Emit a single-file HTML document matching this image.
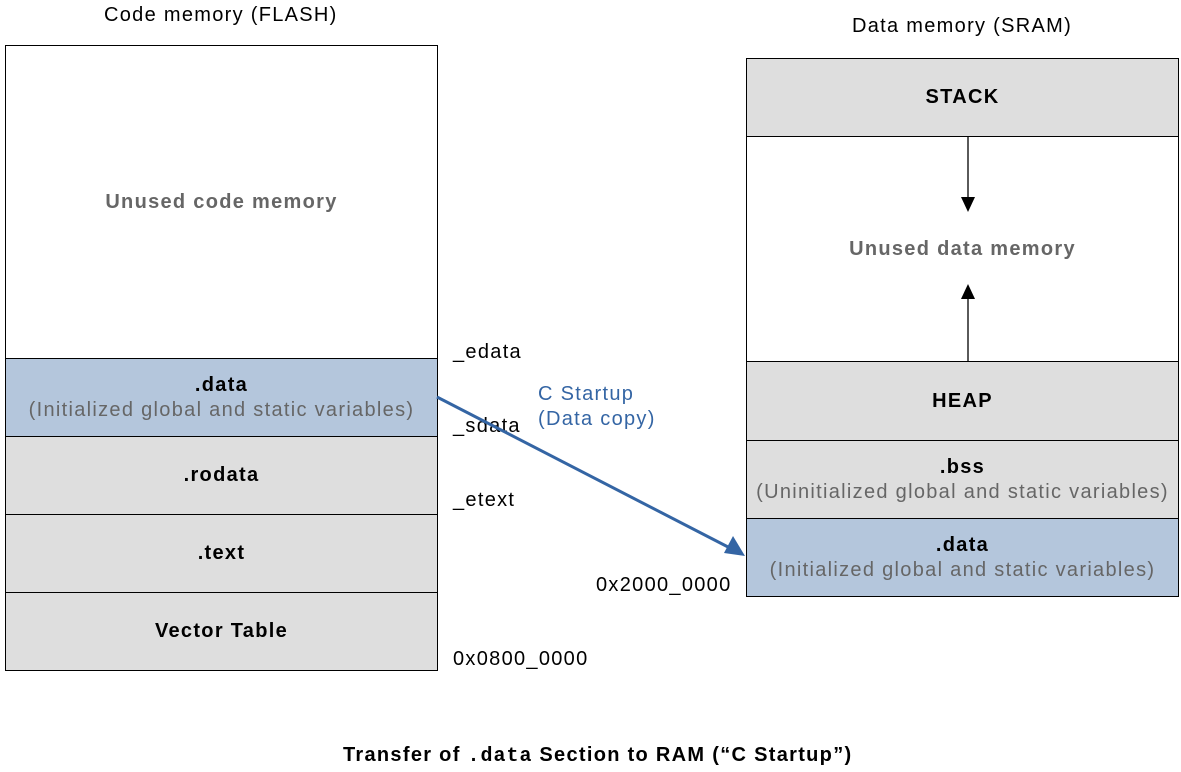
<!DOCTYPE html>
<html><head><meta charset="utf-8"><style>
body{margin:0;width:1181px;height:772px;background:#fff;font-family:"Liberation Sans",sans-serif;position:relative;overflow:hidden;letter-spacing:1.3px}
.b{position:absolute;box-sizing:border-box;border:1px solid #000;display:flex;flex-direction:column;align-items:center;justify-content:center;text-align:center;font-size:20px;line-height:25px}
.g{background:#dedede}.bl{background:#b4c6dc}.w{background:#fff}
.b b{color:#000}.s{color:#666}
.t{position:absolute;font-size:20px;color:#000;white-space:nowrap}
</style></head><body>
<div class="t" style="left:104px;top:4px">Code memory (FLASH)</div>
<div class="t" style="left:852px;top:15px">Data memory (SRAM)</div>

<div class="b w" style="left:5px;top:45px;width:433px;height:314px"><b style="color:#666">Unused code memory</b></div>
<div class="b bl" style="left:5px;top:358px;width:433px;height:79px"><b>.data</b><span class="s">(Initialized global and static variables)</span></div>
<div class="b g" style="left:5px;top:436px;width:433px;height:79px"><b>.rodata</b></div>
<div class="b g" style="left:5px;top:514px;width:433px;height:79px"><b>.text</b></div>
<div class="b g" style="left:5px;top:592px;width:433px;height:79px"><b>Vector Table</b></div>

<div class="b g" style="left:746px;top:58px;width:433px;height:79px"><b>STACK</b></div>
<div class="b w" style="left:746px;top:136px;width:433px;height:226px"><b style="color:#666">Unused data memory</b></div>
<div class="b g" style="left:746px;top:361px;width:433px;height:80px"><b>HEAP</b></div>
<div class="b g" style="left:746px;top:440px;width:433px;height:79px"><b>.bss</b><span class="s">(Uninitialized global and static variables)</span></div>
<div class="b bl" style="left:746px;top:518px;width:433px;height:79px"><b>.data</b><span class="s">(Initialized global and static variables)</span></div>

<div class="t" style="left:453px;top:341px">_edata</div>
<div class="t" style="left:453px;top:415px">_sdata</div>
<div class="t" style="left:453px;top:489px">_etext</div>
<div class="t" style="left:453px;top:648px">0x0800_0000</div>
<div class="t" style="left:596px;top:574px">0x2000_0000</div>
<div class="t" style="left:538px;top:382px;color:#3465a4;line-height:25px">C Startup<br>(Data copy)</div>

<svg style="position:absolute;left:0;top:0" width="1181" height="772">
<line x1="437" y1="397" x2="730" y2="548" stroke="#3465a4" stroke-width="3"/>
<polygon points="745,556 724,553 733,536" fill="#3465a4"/>
<line x1="968" y1="137" x2="968" y2="200" stroke="#000" stroke-width="1.3"/>
<polygon points="961,197 975,197 968,212" fill="#000"/>
<line x1="968" y1="361" x2="968" y2="296" stroke="#000" stroke-width="1.3"/>
<polygon points="961,299 975,299 968,284" fill="#000"/>
</svg>

<div class="t" style="left:343px;top:744px;font-weight:bold">Transfer of <span style="font-family:'Liberation Mono',monospace;letter-spacing:1px">.data</span> Section to RAM (“C Startup”)</div>
</body></html>
